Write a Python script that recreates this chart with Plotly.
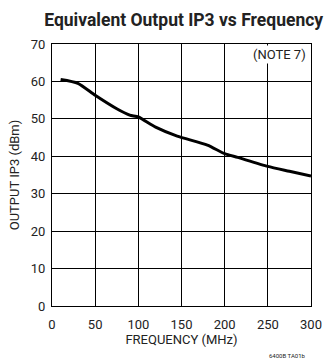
import plotly.graph_objects as go

freq = [10, 30, 50, 75, 90, 100, 120, 145, 180, 200, 215, 250, 275, 300]
ip3 = [60.5, 59.5, 56.3, 52.7, 51.0, 50.5, 47.8, 45.4, 43.0, 40.7, 39.7, 37.3, 36.0, 34.7]
x_ticks = [0, 50, 100, 150, 200, 250, 300]
y_ticks = [0, 10, 20, 30, 40, 50, 60, 70]

FONT = "Roboto"

fig = go.Figure()
fig.add_trace(go.Scatter(x=freq, y=ip3, mode="lines",
                         line=dict(color="black", width=3, shape="spline", smoothing=0.6),
                         showlegend=False, hoverinfo="skip"))

axis_common = dict(showgrid=True, gridcolor="black", gridwidth=1.2,
                   showline=True, linecolor="black", linewidth=1.2, mirror=True,
                   zeroline=False, tickfont=dict(family=FONT, size=13, color="#222"))

fig.update_xaxes(range=[0, 300], tickvals=x_ticks, ticks="outside", ticklen=6, tickcolor="rgba(0,0,0,0)",
                 title=dict(text="FREQUENCY (MHz)", font=dict(family=FONT, size=13, color="#222"), standoff=4),
                 **axis_common)
fig.update_yaxes(range=[0, 70], tickvals=y_ticks, ticks="outside", ticklen=3, tickcolor="rgba(0,0,0,0)",
                 title=dict(text="OUTPUT IP3 (dBm)", font=dict(family=FONT, size=13, color="#222"), standoff=8),
                 **axis_common)

fig.add_annotation(text="(NOTE 7)", x=1, y=1, xref="paper", yref="paper",
                   xanchor="right", yanchor="top", xshift=-3, yshift=-1, showarrow=False,
                   bgcolor="white", font=dict(family=FONT, size=13, color="#222"))
fig.add_annotation(text="6400B TA01b", x=1, y=0, xref="paper", yref="paper",
                   xanchor="right", yanchor="top", yshift=-44, xshift=-3, showarrow=False,
                   font=dict(family=FONT, size=6, color="#222"))

fig.update_layout(
    width=334, height=363,
    margin=dict(l=52, r=19, t=44, b=57),
    paper_bgcolor="white", plot_bgcolor="white",
    title=dict(text="<b>Equivalent Output IP3 vs Frequency</b>", x=0.55, xanchor="center",
               y=1 - 20 / 363, yanchor="middle",
               font=dict(family=FONT, size=17.5, color="#222")),
)

fig.write_html("out.html")
